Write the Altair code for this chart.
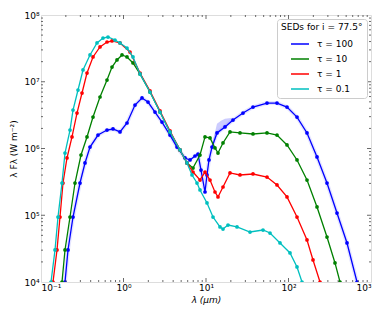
import altair as alt
import pandas as pd

# ---- data (wavelength in micron, lambda*F_lambda in W m^-2)
tau100_wl = [0.1954, 0.2125, 0.2443, 0.2970, 0.3415, 0.3926, 0.4909, 0.6310, 0.7459, 0.9070,
             1.103, 1.378, 1.676, 1.982, 2.409, 2.928, 3.662, 4.451, 5.566, 6.400,
             7.356, 8.000, 8.70, 9.725, 10.28, 10.87, 11.83, 13.59, 16.99, 21.25,
             28.09, 37.13, 54.89, 72.55, 95.9, 126.8, 167.6, 221.6, 292.8, 387.1,
             511.9, 676.7]
tau100_f = [1.0e4, 3.02e4, 9.41e4, 3.04e5, 6.07e5, 1.05e6, 1.59e6, 1.89e6, 1.96e6, 1.77e6,
            2.41e6, 4.48e6, 5.71e6, 4.97e6, 3.52e6, 2.49e6, 1.59e6, 1.05e6, 7.21e5, 6.73e5,
            7.72e5, 8.27e5, 4.76e5, 2.23e5, 4.01e5, 6.73e5, 1.05e6, 1.71e6, 2.10e6, 2.67e6,
            3.40e6, 4.18e6, 4.80e6, 4.80e6, 4.18e6, 2.96e6, 1.71e6, 7.46e5, 3.04e5, 1.08e5,
            3.84e4, 1.0e4]

tau10_wl = [0.1797, 0.1954, 0.2247, 0.2583, 0.3054, 0.3610, 0.4270, 0.5190, 0.6310, 0.7255,
            0.8340, 0.9590, 1.103, 1.304, 1.585, 2.095, 2.770, 3.662, 4.840, 5.885,
            6.956, 8.456, 9.725, 11.18, 12.85, 13.98, 16.07, 19.54, 25.83, 37.13,
            54.89, 72.55, 95.9, 126.8, 167.6, 221.6, 292.8, 366.1, 421.0]
tau10_f = [1.0e4, 3.02e4, 9.41e4, 3.04e5, 7.99e5, 1.49e6, 2.96e6, 5.91e6, 1.06e7, 1.66e7,
           2.12e7, 2.52e7, 2.35e7, 1.91e7, 1.31e7, 7.02e6, 3.52e6, 1.77e6, 9.50e5, 6.07e5,
           5.10e5, 7.99e5, 1.49e6, 1.44e6, 1.02e6, 8.56e5, 1.21e6, 1.77e6, 1.71e6, 1.65e6,
           1.71e6, 1.59e6, 1.13e6, 6.73e5, 3.37e5, 1.33e5, 4.72e4, 1.93e4, 1.0e4]

tau1_wl = [0.1398, 0.1563, 0.1699, 0.1848, 0.2066, 0.2375, 0.2731, 0.3141, 0.3610, 0.4270,
           0.5190, 0.6310, 0.7255, 0.9070, 1.199, 1.585, 2.095, 2.770, 3.662, 4.840,
           5.885, 6.956, 8.456, 9.725, 11.18, 12.85, 13.98, 16.07, 19.54, 25.83,
           37.13, 54.89, 72.55, 95.9, 126.8, 167.6, 198.2, 240.9]
tau1_f = [1.0e4, 3.02e4, 9.41e4, 3.04e5, 7.21e5, 1.49e6, 3.40e6, 6.78e6, 1.35e7, 2.35e7,
          3.32e7, 3.94e7, 4.08e7, 3.81e7, 2.79e7, 1.35e7, 7.27e6, 3.65e6, 1.83e6, 9.50e5,
          6.07e5, 4.44e5, 3.37e5, 4.44e5, 3.37e5, 2.23e5, 1.88e5, 2.65e5, 4.30e5, 4.01e5,
          4.15e5, 3.74e5, 2.84e5, 1.88e5, 9.41e4, 4.26e4, 2.14e4, 1.0e4]

tau01_wl = [0.1322, 0.1478, 0.1607, 0.1797, 0.1954, 0.2247, 0.2443, 0.2809, 0.3229, 0.3926,
            0.4775, 0.5645, 0.6487, 0.7888, 0.9070, 1.103, 1.304, 1.585, 2.095, 2.770,
            3.662, 4.840, 5.885, 6.766, 7.780, 8.456, 10.28, 12.16, 14.78, 16.07,
            18.48, 23.76, 34.15, 49.09, 59.68, 78.88, 104.3, 126.8, 145.8]
tau01_f = [1.0e4, 3.02e4, 9.41e4, 3.04e5, 8.56e5, 1.89e6, 3.77e6, 7.52e6, 1.50e7, 2.52e7,
           3.81e7, 4.52e7, 4.68e7, 4.22e7, 3.81e7, 3.20e7, 2.35e7, 1.31e7, 7.02e6, 3.52e6,
           1.77e6, 9.50e5, 6.07e5, 4.01e5, 3.04e5, 2.39e5, 1.53e5, 9.41e4, 6.67e4, 6.22e4,
           7.14e4, 6.67e4, 5.61e4, 6.01e4, 5.42e4, 3.84e4, 2.72e4, 1.68e4, 1.0e4]

# uncertainty band of the tau=100 model around the 10-20 micron region
band_wl = [11.83, 13.59, 15.2, 16.99, 21.25]
band_lo = [1.0e6, 1.6e6, 1.85e6, 2.05e6, 2.6e6]
band_hi = [1.15e6, 2.35e6, 2.6e6, 2.8e6, 2.9e6]

labels = ["τ = 100", "τ = 10", "τ = 1", "τ = 0.1"]
colors = ["#0000ff", "#008000", "#ff0000", "#00bfbf"]

x_major = [0.1, 1, 10, 100, 1000]
y_major = [1e4, 1e5, 1e6, 1e7, 1e8]
x_minor = [d * m for d in x_major[:-1] for m in range(2, 10)]
y_minor = [d * m for d in y_major[:-1] for m in range(2, 10)]

W, H = 330, 267

xscale = alt.Scale(type="log", domain=[0.1, 1000], nice=False)
yscale = alt.Scale(type="log", domain=[1e4, 1e8], nice=False)

xaxis = alt.Axis(values=x_major, ticks=False, domain=False, grid=False,
                 labelExpr="datum.value < 0.5 ? '10⁻¹' : datum.value < 5 ? '10⁰' : datum.value < 50 ? '10¹' : datum.value < 500 ? '10²' : '10³'",
                 title="λ (μm)", titleFontStyle="italic", titleFontWeight="normal",
                 titleFontSize=9, labelFontSize=9, labelPadding=1, titlePadding=3,
                 labelFont="DejaVu Sans", titleFont="DejaVu Sans", labelColor="#000", titleColor="#000")
yaxis = alt.Axis(values=y_major, ticks=False, domain=False, grid=False,
                 labelExpr="datum.value < 5e4 ? '10⁴' : datum.value < 5e5 ? '10⁵' : datum.value < 5e6 ? '10⁶' : datum.value < 5e7 ? '10⁷' : '10⁸'",
                 title="λ Fλ (W m⁻²)", titleFontWeight="normal",
                 titleFontSize=9, labelFontSize=9, labelPadding=2, titlePadding=5,
                 labelFont="DejaVu Sans", titleFont="DejaVu Sans", labelColor="#000", titleColor="#000")

X = lambda f: alt.X(f, type="quantitative", scale=xscale, axis=xaxis)
Y = lambda f: alt.Y(f, type="quantitative", scale=yscale, axis=yaxis)

series_data = [(tau100_wl, tau100_f), (tau10_wl, tau10_f), (tau1_wl, tau1_f), (tau01_wl, tau01_f)]

layers = []

band_df = pd.DataFrame({"wl": band_wl, "lo": band_lo, "hi": band_hi})
layers.append(alt.Chart(band_df).mark_area(color="#0000ff", opacity=0.2, clip=True).encode(
    x=X("wl"), y=Y("lo"), y2="hi"))

blue_df = pd.DataFrame({"wl": tau100_wl, "flux": tau100_f})
layers.append(alt.Chart(blue_df).mark_line(color="#0000ff", opacity=0.1, strokeWidth=4, clip=True).encode(
    x=X("wl"), y=Y("flux")))

legend = alt.Legend(title="SEDs for i = 77.5°", orient="top-right", offset=4,
                    padding=4, fillColor="rgba(255,255,255,0.85)",
                    strokeColor="#cccccc", cornerRadius=3,
                    titleFontWeight="normal", titleFontSize=9,
                    titleFont="DejaVu Sans", labelFont="DejaVu Sans",
                    labelFontSize=9, symbolType="stroke", symbolSize=324,
                    symbolOffset=9, labelOffset=7,
                    symbolStrokeWidth=1.5, rowPadding=-5, titlePadding=2,
                    labelColor="#000", titleColor="#000")

for (wl, fl), lab, col in zip(series_data, labels, colors):
    df = pd.DataFrame({"wl": wl, "flux": fl, "series": lab})
    layers.append(alt.Chart(df).mark_line(strokeWidth=1.3, clip=True).encode(
        x=X("wl"), y=Y("flux"),
        color=alt.Color("series:N", scale=alt.Scale(domain=labels, range=colors), legend=legend)))
    layers.append(alt.Chart(df).mark_circle(color=col, size=14, opacity=1, clip=True).encode(
        x=X("wl"), y=Y("flux")))

tick_col = "#444444"
xmaj = pd.DataFrame({"v": x_major[1:-1]})
xmin = pd.DataFrame({"v": x_minor})
ymaj = pd.DataFrame({"v": y_major[1:-1]})
ymin = pd.DataFrame({"v": y_minor})
for d, L in [(xmaj, 4), (xmin, 2)]:
    layers.append(alt.Chart(d).mark_rule(color=tick_col, strokeWidth=0.8).encode(
        x=X("v"), y=alt.value(H), y2=alt.value(H - L)))
    layers.append(alt.Chart(d).mark_rule(color=tick_col, strokeWidth=0.8).encode(
        x=X("v"), y=alt.value(0), y2=alt.value(L)))
for d, L in [(ymaj, 4), (ymin, 2)]:
    layers.append(alt.Chart(d).mark_rule(color=tick_col, strokeWidth=0.8).encode(
        y=Y("v"), x=alt.value(0), x2=alt.value(L)))
    layers.append(alt.Chart(d).mark_rule(color=tick_col, strokeWidth=0.8).encode(
        y=Y("v"), x=alt.value(W), x2=alt.value(W - L)))

chart = alt.layer(*layers).properties(
    width=W, height=H,
    autosize=alt.AutoSizeParams(type="none"),
    padding={"left": 33, "top": 7, "right": 10, "bottom": 25},
).configure_view(stroke="#555555", strokeWidth=1).configure(background="white")

chart.save("out.html", embed_options={"renderer": "svg", "actions": False})
